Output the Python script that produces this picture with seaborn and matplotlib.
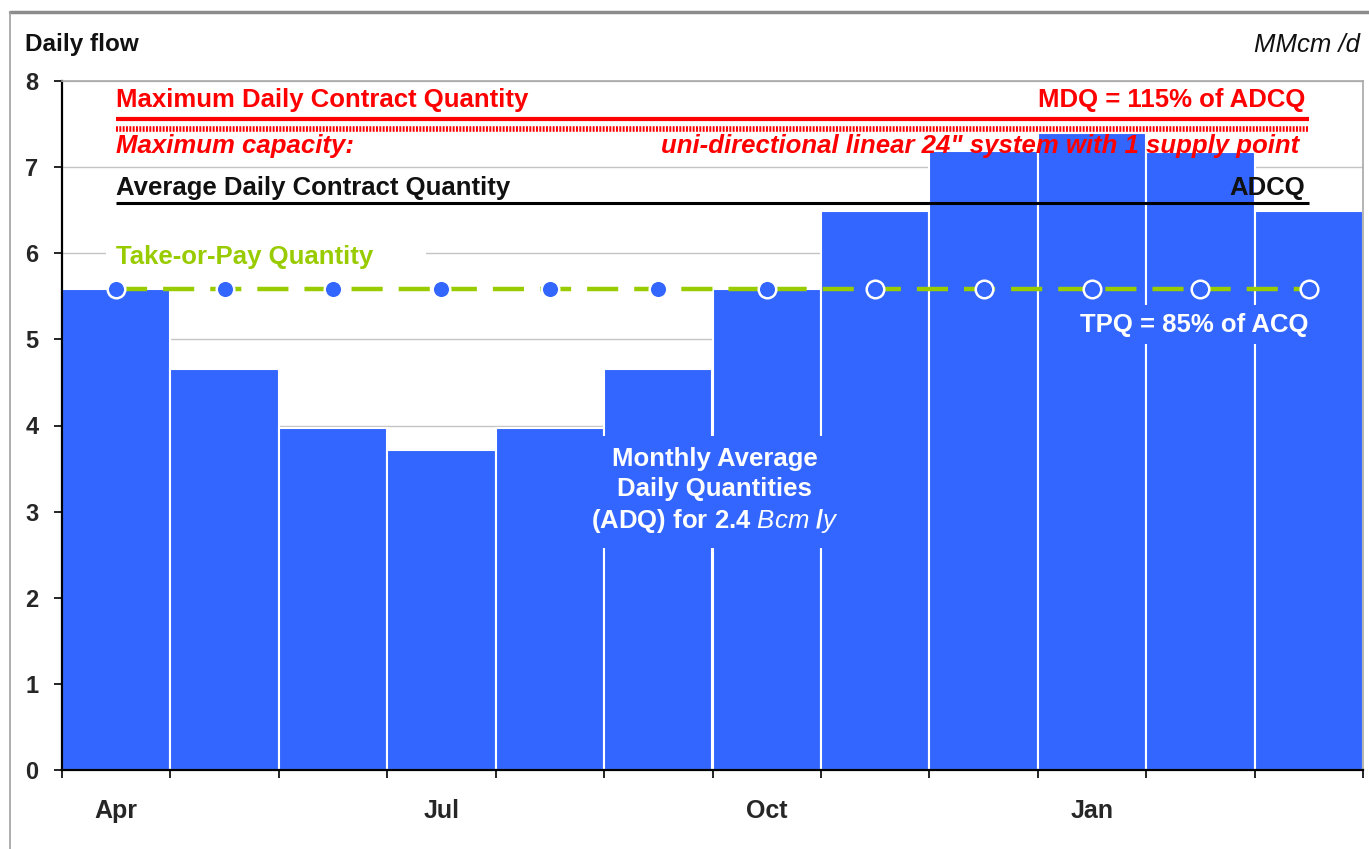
import matplotlib
matplotlib.use("Agg")
import matplotlib.pyplot as plt
from matplotlib.lines import Line2D
import seaborn as sns
import pandas as pd
import numpy as np

# ---- data ----
months = ["Apr", "May", "Jun", "Jul", "Aug", "Sep", "Oct", "Nov", "Dec", "Jan", "Feb", "Mar"]
adq = [5.58, 4.66, 3.97, 3.72, 3.97, 4.66, 5.58, 6.49, 7.19, 7.40, 7.17, 6.49]
month_labels = ["Apr", "", "", "Jul", "", "", "Oct", "", "", "Jan", "", ""]
tpq = 5.59
adcq = 6.58
mdq = 7.56
max_cap = 7.44
y_ticks = [0, 1, 2, 3, 4, 5, 6, 7, 8]

BLUE = "#3366FF"
GREEN = "#99CC00"
RED = "#FF0000"

sns.set_theme(style="white")
plt.rcParams['font.family'] = ['Liberation Sans', 'DejaVu Sans']
plt.rcParams['mathtext.fontset'] = 'custom'
plt.rcParams['mathtext.it'] = 'Liberation Sans:italic'
plt.rcParams['mathtext.rm'] = 'Liberation Sans:bold'

fig = plt.figure(figsize=(13.69, 8.49), dpi=100)
fig.patch.set_facecolor("white")
ax = fig.add_axes([62 / 1369, 79 / 849, 1301 / 1369, 689 / 849])

df = pd.DataFrame({"month": months, "adq": adq})
sns.barplot(data=df, x="month", y="adq", order=months, color=BLUE, saturation=1,
            width=1.0, edgecolor="white", linewidth=1.5, ax=ax, zorder=2)

xpos = np.arange(len(months))
ax.set_xlim(-0.5, len(months) - 0.5)
ax.set_ylim(y_ticks[0], y_ticks[-1])

# grid
ax.set_axisbelow(True)
ax.set_yticks(y_ticks)
ax.set_yticklabels([str(t) for t in y_ticks], fontweight="bold", fontsize=17)
ax.yaxis.grid(True, color="#c4c4c4", lw=1)
ax.xaxis.grid(False)

# x ticks: marks at month boundaries, labels at quarter centers
ax.set_xticks(np.arange(-0.5, len(months), 1))
ax.set_xticklabels([])
ax.set_xticks(xpos, minor=True)
ax.set_xticklabels(month_labels, minor=True, fontweight="bold", fontsize=18)
ax.tick_params(axis="x", which="major", direction="out", length=6, width=1.2, color="black", bottom=True)
ax.tick_params(axis="x", which="minor", length=0, pad=21)
ax.tick_params(axis="y", direction="out", length=6, width=1.2, color="black", left=True, pad=11)
ax.set_xlabel("")
ax.set_ylabel("")

for s in ["left", "bottom"]:
    ax.spines[s].set_color("black")
    ax.spines[s].set_linewidth(1.6)
for s in ["top", "right"]:
    ax.spines[s].set_color("#a8a8a8")
    ax.spines[s].set_linewidth(1.2)

# reference lines
ax.plot(xpos[[0, -1]], [mdq, mdq], color=RED, lw=3, zorder=4, solid_capstyle="butt")
ax.plot(xpos[[0, -1]], [max_cap, max_cap], color=RED, lw=4, zorder=4,
        linestyle=(0, (0.35, 0.25)), dash_capstyle="butt")
ax.plot(xpos[[0, -1]], [adcq, adcq], color="black", lw=2.2, zorder=4, solid_capstyle="butt")
ax.plot(xpos, [tpq] * len(xpos), color=GREEN, lw=3.2, zorder=4,
        linestyle=(0, (7, 3.6)), dash_capstyle="butt")
sns.scatterplot(x=xpos, y=[tpq] * len(xpos), s=160, color=BLUE, edgecolor="white",
                linewidth=1.8, zorder=5, ax=ax, legend=False)

# texts
fs = 18.5
ax.text(0, 7.78, "Maximum Daily Contract Quantity", color=RED, fontsize=fs,
        fontweight="bold", ha="left", va="center", zorder=6)
ax.text(10.97, 7.78, "MDQ = 115% of ADCQ", color=RED, fontsize=fs,
        fontweight="bold", ha="right", va="center", zorder=6)
ax.text(0, 7.25, "Maximum capacity:", color=RED, fontsize=fs, fontweight="bold",
        fontstyle="italic", ha="left", va="center", zorder=6)
ax.text(10.91, 7.25, "uni-directional linear 24\" system with 1 supply point", color=RED,
        fontsize=fs, fontweight="bold", fontstyle="italic", ha="right", va="center", zorder=6)
ax.text(0, 6.76, "Average Daily Contract Quantity", color="#111111", fontsize=fs,
        fontweight="bold", ha="left", va="center", zorder=6)
ax.text(10.97, 6.76, "ADCQ", color="#111111", fontsize=fs, fontweight="bold",
        ha="right", va="center", zorder=6)
ax.text(0, 5.96, "Take-or-Pay Quantity      ", color=GREEN, fontsize=fs, fontweight="bold",
        ha="left", va="center", zorder=6,
        bbox=dict(boxstyle="square,pad=0.4", fc="white", ec="none"))
ax.text(11.0, 5.17, "TPQ = 85% of ACQ", color="white", fontsize=fs, fontweight="bold",
        ha="right", va="center", zorder=6,
        bbox=dict(boxstyle="square,pad=0.3", fc=BLUE, ec="none"))
ax.text(5.52, 3.24, "Monthly Average\nDaily Quantities\n(ADQ) for 2.4 $Bcm\\ /y$",
        color="white", fontsize=fs, fontweight="bold", ha="center", va="center",
        linespacing=1.3, zorder=6,
        bbox=dict(boxstyle="square,pad=0.5", fc=BLUE, ec="none"))

fig.text(25 / 1369, 1 - 45 / 849, "Daily flow", fontsize=17.5, fontweight="bold",
         ha="left", va="center", color="#111111")
fig.text(1360 / 1369, 1 - 45 / 849, "MMcm /d", fontsize=18.5, fontstyle="italic",
         ha="right", va="center", color="#111111")

# outer frame
fig.add_artist(Line2D([10 / 1369, 1], [1 - 12 / 849, 1 - 12 / 849], transform=fig.transFigure,
                      color="#8c8c8c", lw=2.5))
fig.add_artist(Line2D([10 / 1369, 10 / 1369], [0, 1 - 12 / 849], transform=fig.transFigure,
                      color="#a0a0a0", lw=1.2))

fig.savefig("out.png", dpi=100, facecolor="white")
